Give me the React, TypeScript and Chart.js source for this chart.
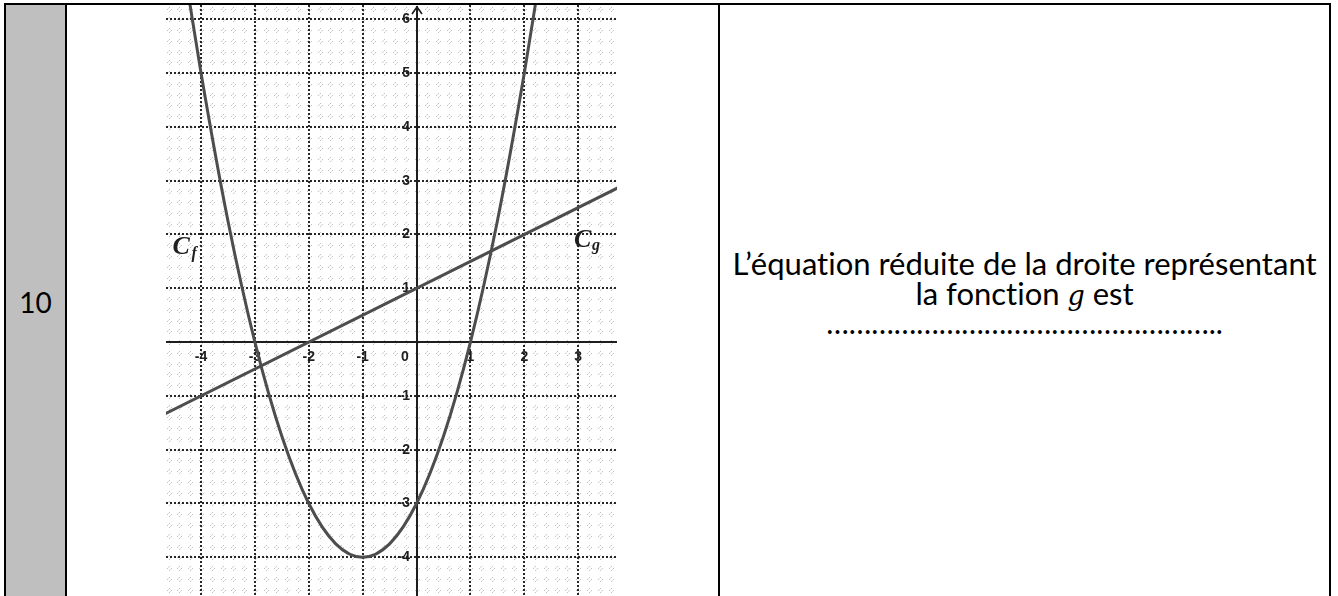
import React, { useEffect, useRef } from "react";
import { Chart, registerables } from "chart.js";
Chart.register(...registerables);

// Parabola C_f
const fX = [-4.25, -4, -3.5, -3, -2.5, -2, -1.5, -1, -0.5, 0, 0.5, 1, 1.5, 2, 2.25];
const fY = [6.56, 5, 2.25, 0, -1.75, -3, -3.75, -4, -3.75, -3, -1.75, 0, 2.25, 5, 6.56];
// Line C_g
const gX = [-5, 4];
const gY = [-1.5, 3];
// Axis tick labels
const xTickVals = [-4, -3, -2, -1, 1, 2, 3];
const yTickVals = [-4, -3, -2, -1, 1, 2, 3, 4, 5, 6];
const X_MIN = -4.65;
const X_MAX = 3.72;
const Y_MIN = -4.72;
const Y_MAX = 6.266;

const gridPlugin = {
  id: "geoGrid",
  beforeDatasetsDraw(chart: any) {
    const ctx = chart.ctx;
    const xs = chart.scales.x;
    const ys = chart.scales.y;
    const { left, right, top, bottom } = chart.chartArea;
    ctx.save();
    ctx.fillStyle = "#ffffff";
    ctx.fillRect(left, top, right - left, bottom - top);
    // minor motifs every 0.2
    for (let i = Math.ceil(X_MIN / 0.2); i * 0.2 <= X_MAX; i++) {
      const px = Math.round(xs.getPixelForValue(i * 0.2));
      for (let j = Math.ceil(Y_MIN / 0.2); j * 0.2 <= Y_MAX; j++) {
        const py = Math.round(ys.getPixelForValue(j * 0.2));
        ctx.fillStyle = "#c2c2c2";
        ctx.fillRect(px - 2, py, 1, 1);
        ctx.fillRect(px + 2, py, 1, 1);
        ctx.fillRect(px, py - 2, 1, 1);
        ctx.fillRect(px, py + 2, 1, 1);
        ctx.fillStyle = "#dedede";
        ctx.fillRect(px - 1, py - 1, 1, 1);
        ctx.fillRect(px + 1, py + 1, 1, 1);
      }
    }
    // major dotted grid
    ctx.strokeStyle = "#262626";
    ctx.lineWidth = 2;
    ctx.setLineDash([2, 2]);
    for (let v = Math.ceil(X_MIN); v <= X_MAX; v++) {
      if (v === 0) continue;
      const px = Math.round(xs.getPixelForValue(v));
      ctx.beginPath();
      ctx.moveTo(px, top);
      ctx.lineTo(px, bottom);
      ctx.stroke();
    }
    for (let v = Math.ceil(Y_MIN); v <= Y_MAX; v++) {
      if (v === 0) continue;
      const py = Math.round(ys.getPixelForValue(v));
      ctx.beginPath();
      ctx.moveTo(left, py);
      ctx.lineTo(right, py);
      ctx.stroke();
    }
    ctx.setLineDash([]);
    // axes
    const x0 = Math.round(xs.getPixelForValue(0));
    const y0 = Math.round(ys.getPixelForValue(0));
    ctx.strokeStyle = "#1e1e1e";
    ctx.lineWidth = 2;
    ctx.beginPath();
    ctx.moveTo(left, y0);
    ctx.lineTo(right, y0);
    ctx.moveTo(x0, top + 1);
    ctx.lineTo(x0, bottom);
    ctx.stroke();
    ctx.lineWidth = 1.6;
    ctx.beginPath();
    ctx.moveTo(x0 - 5, top + 9);
    ctx.lineTo(x0, top + 2);
    ctx.lineTo(x0 + 5, top + 9);
    ctx.stroke();
    // tick labels
    ctx.fillStyle = "#1e1e1e";
    ctx.font = "bold 14px 'Liberation Sans', Arial, sans-serif";
    ctx.textBaseline = "middle";
    ctx.textAlign = "center";
    for (const v of xTickVals) {
      ctx.fillText(String(v), xs.getPixelForValue(v), y0 + 15);
    }
    ctx.fillText("0", x0 - 12, y0 + 15);
    ctx.textAlign = "right";
    for (const v of yTickVals) {
      ctx.fillText(String(v), x0 - 7, ys.getPixelForValue(v));
    }
    // curve names
    ctx.textAlign = "left";
    ctx.textBaseline = "alphabetic";
    ctx.font = "italic bold 26px 'Liberation Serif', serif";
    const cfx = xs.getPixelForValue(-4.53);
    const cfy = ys.getPixelForValue(1.63);
    ctx.fillText("C", cfx, cfy);
    ctx.font = "italic bold 16px 'Liberation Serif', serif";
    ctx.fillText("f", cfx + 19, cfy + 4);
    ctx.font = "italic bold 26px 'Liberation Serif', serif";
    const cgx = xs.getPixelForValue(2.92);
    const cgy = ys.getPixelForValue(1.76);
    ctx.fillText("C", cgx, cgy);
    ctx.font = "italic bold 16px 'Liberation Serif', serif";
    ctx.fillText("g", cgx + 18, cgy + 3);
    ctx.restore();
  },
};

function GraphCanvas() {
  const ref = useRef<HTMLCanvasElement | null>(null);
  useEffect(() => {
    if (!ref.current) return;
    const chart = new Chart(ref.current, {
      type: "scatter",
      data: {
        datasets: [
          {
            label: "Cf",
            data: fX.map((x, i) => ({ x, y: fY[i] })),
            showLine: true,
            borderColor: "#4d4d4d",
            borderWidth: 3,
            pointRadius: 0,
            cubicInterpolationMode: "monotone",
          },
          {
            label: "Cg",
            data: gX.map((x, i) => ({ x, y: gY[i] })),
            showLine: true,
            borderColor: "#4d4d4d",
            borderWidth: 3,
            pointRadius: 0,
          },
        ],
      },
      options: {
        animation: false,
        responsive: false,
        maintainAspectRatio: false,
        layout: { padding: 0 },
        plugins: { legend: { display: false }, tooltip: { enabled: false } },
        scales: {
          x: { type: "linear", min: X_MIN, max: X_MAX, display: false },
          y: { type: "linear", min: Y_MIN, max: Y_MAX, display: false },
        },
      },
      plugins: [gridPlugin],
    } as any);
    return () => chart.destroy();
  }, []);
  return (
    <canvas
      ref={ref}
      width={451}
      height={591}
      style={{ position: "absolute", left: 166, top: 5, width: 451, height: 591 }}
    />
  );
}

const bar = (l: number, t: number, w: number, h: number, c = "#000") => (
  <div style={{ position: "absolute", left: l, top: t, width: w, height: h, background: c }} />
);

export default function App() {
  const textFont = "Lato, 'Open Sans', sans-serif";
  return (
    <div
      style={{
        position: "absolute",
        left: 0,
        top: 0,
        width: 1338,
        height: 596,
        overflow: "hidden",
        background: "#fff",
      }}
    >
      {bar(6, 5, 59, 600, "#bfbfbf")}
      <GraphCanvas />
      {bar(4, 3, 1327, 2)}
      {bar(4, 3, 2, 600)}
      {bar(65, 3, 2, 600)}
      {bar(718, 3, 2, 600)}
      {bar(1329, 3, 2, 600)}
      <div
        style={{
          position: "absolute",
          left: 6,
          width: 59,
          top: 284,
          textAlign: "center",
          fontFamily: textFont,
          fontSize: 28,
          lineHeight: "36px",
          color: "#000",
        }}
      >
        10
      </div>
      <div
        style={{
          position: "absolute",
          left: 720,
          width: 609,
          top: 248,
          textAlign: "center",
          fontFamily: textFont,
          fontSize: 31,
          lineHeight: "30px",
          color: "#000",
          whiteSpace: "nowrap",
          fontVariantLigatures: "none",
        }}
      >
        <div>L’équation réduite de la droite représentant</div>
        <div>
          la fonction{" "}
          <span style={{ fontFamily: "'DejaVu Serif', serif", fontStyle: "italic", fontSize: 27 }}>g</span> est
        </div>
        <div style={{ marginTop: -4, fontSize: 30 }}>……………………………………………..</div>
      </div>
    </div>
  );
}
